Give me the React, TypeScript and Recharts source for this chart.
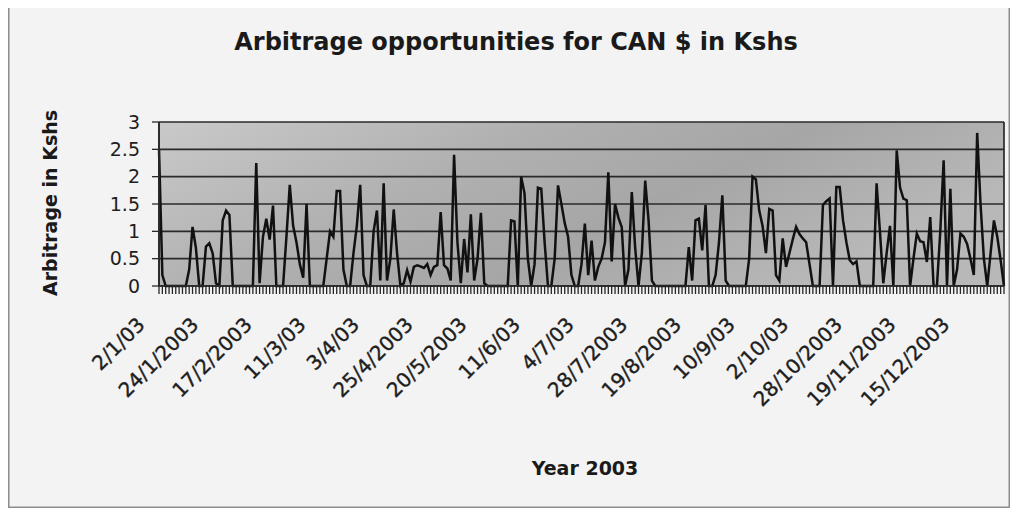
import React from 'react'
import { LineChart, Line, XAxis, YAxis, CartesianGrid } from 'recharts'

// daily arbitrage (Kshs) over the 2003 trading days
const arbitrage: number[] = [
  2.5, 0.2, 0, 0, 0, 0, 0, 0, 0, 0.3,
  1.08, 0.7, 0, 0, 0.72, 0.78, 0.6, 0.05, 0, 1.2,
  1.38, 1.3, 0, 0, 0, 0, 0, 0, 0, 2.25,
  0.05, 0.9, 1.23, 0.85, 1.47, 0, 0, 0, 0.9, 1.85,
  1.1, 0.8, 0.4, 0.15, 1.5, 0, 0, 0, 0, 0,
  0.5, 1.0, 0.9, 1.74, 1.74, 0.3, 0, 0, 0.6, 1.1,
  1.85, 0.2, 0, 0, 1.0, 1.38, 0.1, 1.88, 0.1, 0.5,
  1.4, 0.6, 0, 0.05, 0.29, 0.08, 0.35, 0.38, 0.36, 0.33,
  0.4, 0.2, 0.35, 0.38, 1.35, 0.38, 0.32, 0.1, 2.4, 0.8,
  0.05, 0.86, 0.25, 1.31, 0.1, 0.5, 1.34, 0.05, 0, 0,
  0, 0, 0, 0, 0, 1.2, 1.18, 0, 2.0, 1.7,
  0.5, 0, 0.4, 1.8, 1.78, 0.8, 0, 0, 0.5, 1.84,
  1.5, 1.15, 0.9, 0.2, 0, 0, 0.4, 1.14, 0.2, 0.83,
  0.1, 0.35, 0.5, 0.8, 2.08, 0.45, 1.5, 1.25, 1.08, 0,
  0.3, 1.72, 0.7, 0, 0.6, 1.93, 1.2, 0.1, 0, 0,
  0, 0, 0, 0, 0, 0, 0, 0, 0.71, 0.1,
  1.2, 1.23, 0.65, 1.48, 0, 0, 0.2, 0.8, 1.66, 0.1,
  0, 0, 0, 0, 0, 0, 0.5, 2.0, 1.95, 1.38,
  1.1, 0.6, 1.41, 1.38, 0.2, 0.1, 0.87, 0.35, 0.6, 0.85,
  1.08, 0.95, 0.87, 0.8, 0.4, 0, 0, 0, 1.48, 1.55,
  1.6, 0, 1.81, 1.81, 1.2, 0.8, 0.47, 0.4, 0.45, 0,
  0, 0, 0, 0, 1.88, 1.0, 0.05, 0.6, 1.1, 0,
  2.48, 1.8, 1.6, 1.57, 0, 0.5, 0.96, 0.82, 0.8, 0.44,
  1.26, 0, 0, 1.0, 2.3, 0, 1.78, 0, 0.3, 0.96,
  0.9, 0.77, 0.5, 0.2, 2.8, 1.5, 0.5, 0, 0.6, 1.2,
  0.9, 0.47, 0,
]

// a date is printed under every 16th trading day
const dateLabels = [
  '2/1/03', '24/1/2003', '17/2/2003', '11/3/03', '3/4/03', '25/4/2003',
  '20/5/2003', '11/6/03', '4/7/03', '28/7/2003', '19/8/2003', '10/9/03',
  '2/10/03', '28/10/2003', '19/11/2003', '15/12/2003',
]
const LABEL_STEP = 16

const yTicks = [0, 0.5, 1, 1.5, 2, 2.5, 3]

const chartData = arbitrage.map((value, day) => ({ day, value }))

const FONT = '"DejaVu Sans", sans-serif'

// short mark under every day, date text on every 16th
const DayTick = (props: any) => {
  const { x, y, payload } = props
  const day = Number(payload.value)
  const label = day % LABEL_STEP === 0 ? dateLabels[day / LABEL_STEP] : null
  const tx = x - 13
  const ty = y + 40
  return (
    <g>
      <path d={`M${x},${y - 1}v9`} stroke="#262626" strokeWidth={1.3} fill="none" />
      {label && (
        <text
          x={tx}
          y={ty}
          textAnchor="end"
          transform={`rotate(-45 ${tx} ${ty})`}
          fontFamily={FONT}
          fontSize={20}
          fill="#1e1e1e"
          stroke="#1e1e1e"
          strokeWidth={0.4}
        >
          {label}
        </text>
      )}
    </g>
  )
}

const App: React.FC = () => {
  return (
    <div
      style={{
        position: 'relative',
        width: 1002,
        height: 503,
        marginTop: -3,
        background: '#f3f3f3',
        boxShadow: 'inset 0 0 0 1.5px #8c8c8c',
      }}
    >
      <LineChart
        width={1002}
        height={503}
        data={chartData}
        margin={{ top: 117, right: 6, bottom: 0, left: 0 }}
      >
        <defs>
          <linearGradient id="plotFill" x1="0" y1="0" x2="1" y2="0.4">
            <stop offset="0%" stopColor="#c9c9c9" />
            <stop offset="40%" stopColor="#b0b0b0" />
            <stop offset="68%" stopColor="#a6a6a6" />
            <stop offset="100%" stopColor="#b8b8b8" />
          </linearGradient>
        </defs>
        <CartesianGrid
          fill="url(#plotFill)"
          fillOpacity={1}
          stroke="#2a2a2a"
          strokeWidth={1.7}
          horizontal={true}
          vertical={true}
          verticalCoordinatesGenerator={({ offset }: any) => [
            offset.left,
            offset.left + offset.width,
          ]}
        />
        <XAxis
          dataKey="day"
          type="category"
          interval={0}
          height={222}
          tickSize={0}
          tickMargin={0}
          tickLine={false}
          axisLine={{ stroke: '#2a2a2a', strokeWidth: 1.7 }}
          tick={DayTick}
        />
        <YAxis
          width={151}
          domain={[0, 3]}
          ticks={yTicks}
          tickSize={7}
          tickMargin={12}
          axisLine={{ stroke: '#2a2a2a', strokeWidth: 1.7 }}
          tickLine={{ stroke: '#2a2a2a', strokeWidth: 1.3 }}
          tick={{ fontFamily: FONT, fontSize: 19, fill: '#1e1e1e' }}
        />
        <Line
          type="linear"
          dataKey="value"
          stroke="#111111"
          strokeWidth={2.5}
          dot={false}
          isAnimationActive={false}
        />
      </LineChart>
      <svg
        width={1002}
        height={503}
        style={{ position: 'absolute', left: 0, top: 0, pointerEvents: 'none' }}
      >
        <text
          x={508}
          y={45}
          textAnchor="middle"
          fontFamily={FONT}
          fontWeight="bold"
          fontSize={24}
          fill="#1a1a1a"
        >
          Arbitrage opportunities for CAN $ in Kshs
        </text>
        <text
          x={49}
          y={198}
          textAnchor="middle"
          transform="rotate(-90 49 198)"
          fontFamily={FONT}
          fontWeight="bold"
          fontSize={19}
          fill="#1a1a1a"
        >
          Arbitrage in Kshs
        </text>
        <text
          x={577}
          y={470}
          textAnchor="middle"
          fontFamily={FONT}
          fontWeight="bold"
          fontSize={19}
          fill="#1a1a1a"
        >
          Year 2003
        </text>
      </svg>
    </div>
  )
}

export default App
